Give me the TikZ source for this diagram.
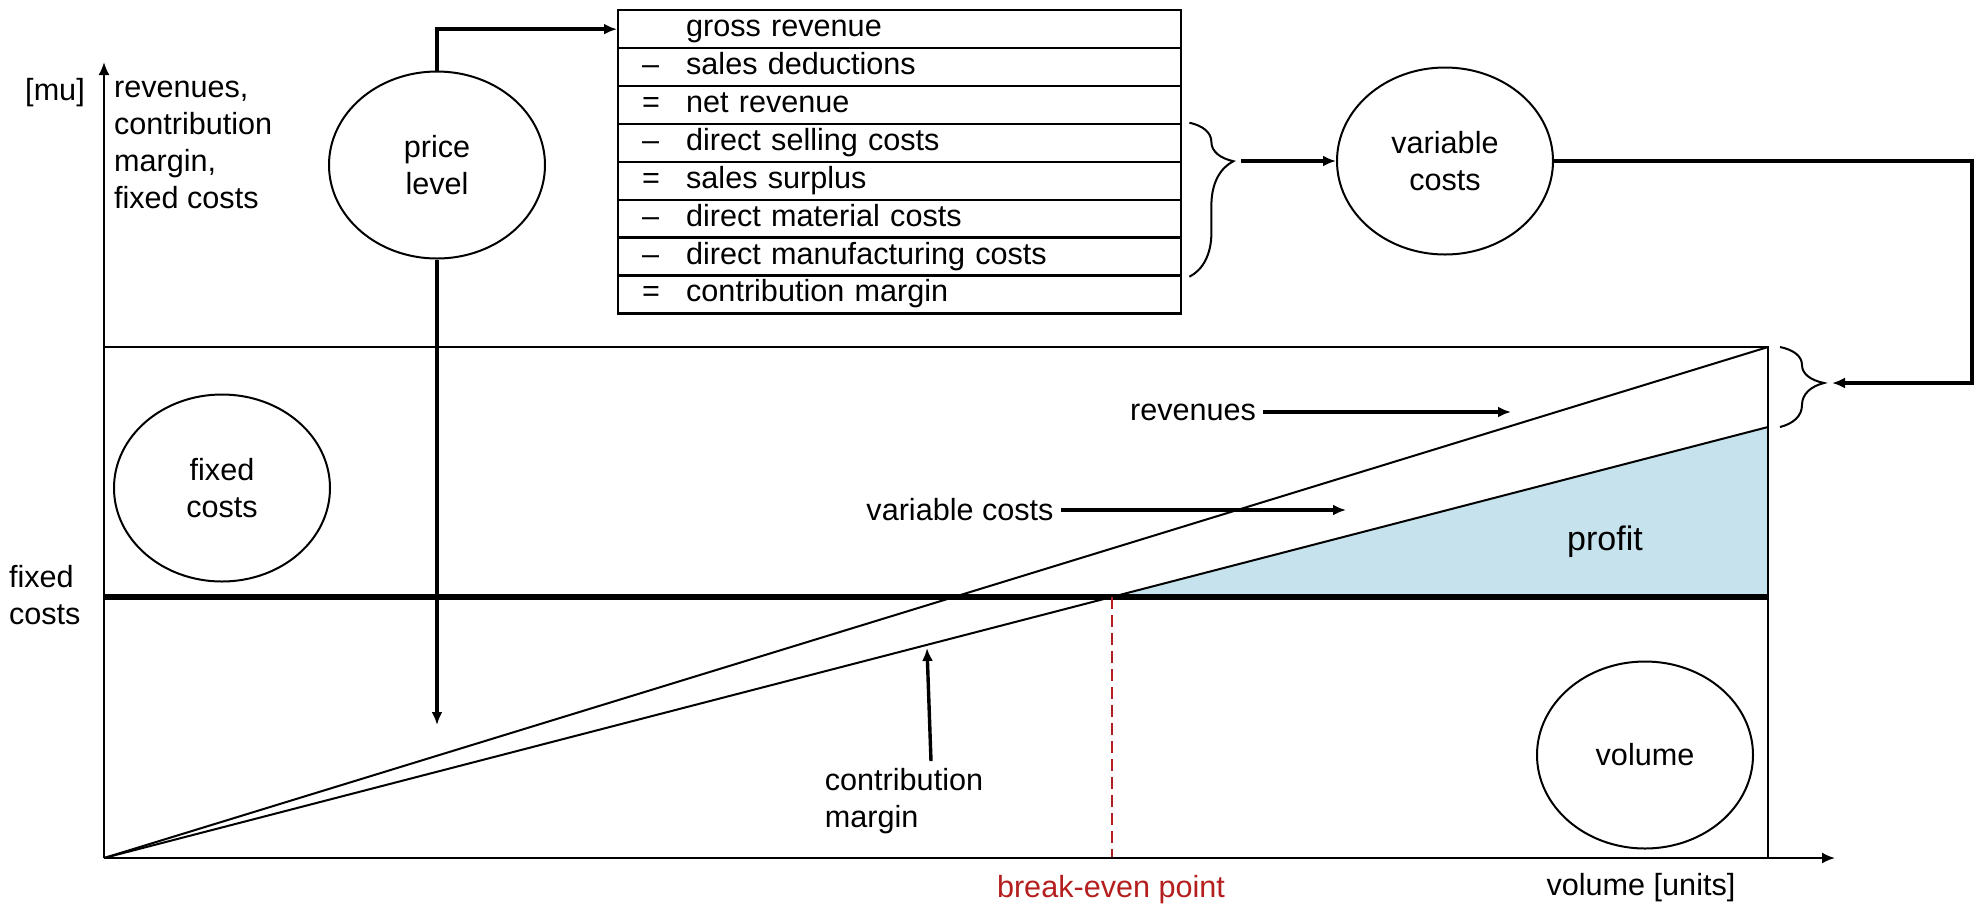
\documentclass[tikz,border=0pt]{standalone}
\usepackage{fontspec}
\setmainfont{Liberation Sans}
\usepackage{tikz}
\usetikzlibrary{arrows.meta, shapes.geometric, decorations.pathreplacing}

\definecolor{profitbg}{RGB}{198,226,236}
\definecolor{bepred}{RGB}{180,30,30}

\tikzset{curlyb/.style={decorate, decoration={brace, amplitude=22pt, aspect=#1}, line width=1pt}}

\begin{document}
\begin{tikzpicture}[x=0.5pt, y=-0.5pt]
        \tikzstyle{every node} = [font=\fontsize{15.3pt}{18.5pt}\selectfont]
        \tikzstyle{bubble} = [draw, ellipse, line width=1pt, inner sep=0pt, minimum width=108pt, minimum height=93.5pt, align=center]
        \tikzstyle{rand} = [draw, line width=1.2pt, anchor=north west, inner xsep=12pt, inner ysep=0pt, text width=257.5pt, minimum height=18.95pt, text height=11pt, text depth=3.5pt, align=left]
        \tikzstyle{conn} = [line width=1.7pt, -{Latex[length=6.5pt, width=5.5pt]}]
        \tikzstyle{axis} = [line width=1pt, -{Latex[length=6.5pt, width=5.5pt]}]

        \useasboundingbox (0,0) rectangle (1982,907);

        % chart corners
        \coordinate (O) at (104,858);
        \coordinate (ytip) at (104,62);
        \coordinate (xtip) at (1835,858);
        \coordinate (ftl) at (104,347);
        \coordinate (ftr) at (1768,347);
        \coordinate (fbr) at (1768,858);
        \coordinate (fcl) at (104,597);
        \coordinate (fcr) at (1768,597);
        \coordinate (vcr) at (1768,427);
        \coordinate (bep) at (1112,597);

        \fill[profitbg] (bep) -- (vcr) -- (fcr) -- cycle;
        \draw[line width=1pt] (ftl) -- (ftr) -- (fbr);
        \draw[line width=1pt] (O) -- (ftr);
        \draw[line width=1pt] (O) -- (vcr);
        \draw[line width=2.8pt] (fcl) -- (fcr);
        \draw[bepred, line width=1.2pt, dash pattern=on 6pt off 3pt] (bep) -- (bep |- O);
        \draw[axis] (O) -- (ytip);
        \draw[axis] (O) -- (xtip);

        % calculation scheme
        \foreach[count=\c] \op/\txt in {{}/gross revenue, –/sales deductions, =/net revenue, –/direct selling costs, =/sales surplus, –/direct material costs, –/direct manufacturing costs, =/contribution margin}
            \node[rand] (r\c) at (617, {9+(\c-1)*37.9}) {\makebox[22pt][l]{\op}\txt};

        \node[bubble] (price) at (437,165) {price\\level};
        \node[bubble] (varcost) at (1445,161) {variable\\costs};
        \node[bubble] (fixcost) at (222,488) {fixed\\costs};
        \node[bubble] (volume) at (1645,755) {volume};

        \draw[curlyb=0.25] ([xshift=3.5pt]r4.north east) -- ([xshift=3.5pt]r7.south east);
        \coordinate (bt1) at (1231,161);
        \draw[curlyb=0.45] ([xshift=6pt]ftr) -- ([xshift=6pt]vcr);
        \coordinate (bt2) at (1824,383);
        \coordinate (ret) at (1972,383);

        \draw[conn] (price.north) |- (r1.west);
        \coordinate (pend) at (437,725);
        \draw[conn] (price.south) -- (pend);
        \draw[conn, shorten <=5pt] (bt1) -- (varcost.west);
        \draw[conn, shorten >=4pt] (varcost.east) -| (ret) -- (bt2);

        % labels
        \node (lmu) at (55,93) {[mu]};
        \node[align=left, anchor=west] (lyax) at (107,145) {revenues,\\contribution\\margin,\\fixed costs};
        \node[align=left, anchor=west] (lfc) at (2,595) {fixed\\costs};

        \node (lrev) at (1193,412) {revenues};
        \coordinate (arev) at (1511,412);
        \draw[conn] (lrev.east) -- (arev);

        \node (lvar) at (960,510) {variable costs};
        \coordinate (avar) at (1346,510);
        \draw[conn] (lvar.east) -- (avar);

        \node[align=left] (lcm) at (904,801) {contribution\\margin};
        \coordinate (acm) at (927,648);
        \draw[conn] ([xshift=13.5pt]lcm.north) -- (acm);

        \node[font=\fontsize{17pt}{20pt}\selectfont] (lprofit) at (1605,542) {profit};
        \node[text=bepred] (lbep) at (1111,890) {break-even point};
        \node (lvol) at (1641,888) {volume [units]};
\end{tikzpicture}
\end{document}
